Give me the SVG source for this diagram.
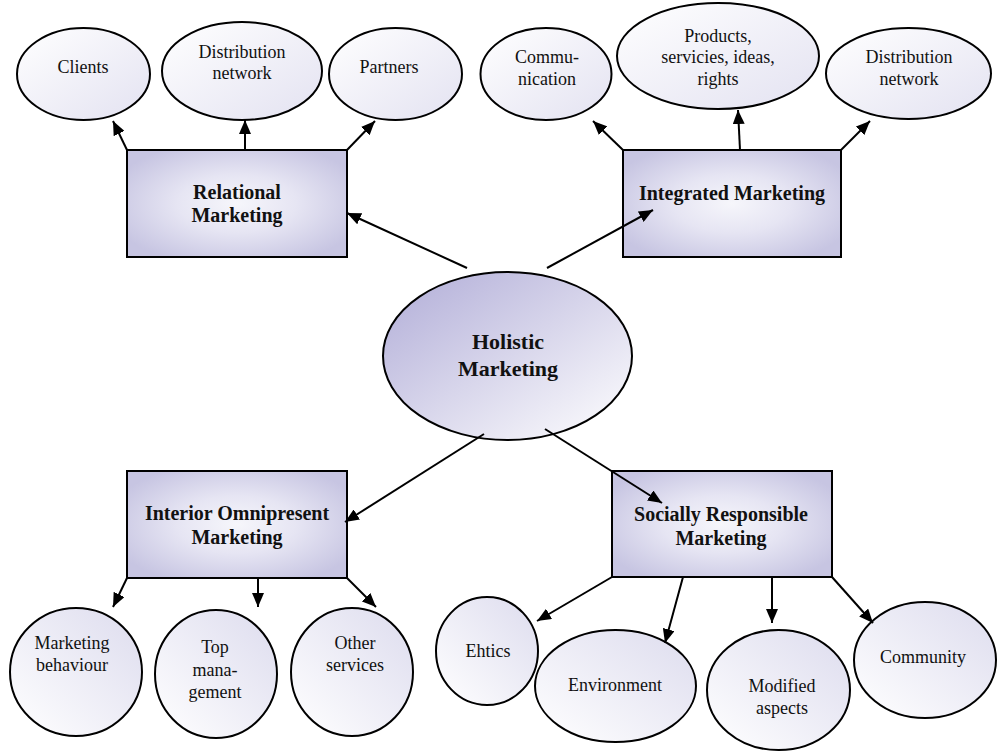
<svg xmlns="http://www.w3.org/2000/svg" width="998" height="751" viewBox="0 0 998 751">
<defs>
<radialGradient id="gBox" cx="0.5" cy="0.5" r="0.6">
<stop offset="0" stop-color="#f6f6fb"/>
<stop offset="0.45" stop-color="#e6e5f3"/>
<stop offset="1" stop-color="#c7c5e2"/>
</radialGradient>
<linearGradient id="gTop" x1="0" y1="0" x2="1" y2="1">
<stop offset="0" stop-color="#ffffff"/>
<stop offset="1" stop-color="#e3e2f1"/>
</linearGradient>
<linearGradient id="gBot" x1="0" y1="1" x2="1" y2="0">
<stop offset="0" stop-color="#ffffff"/>
<stop offset="1" stop-color="#dddcee"/>
</linearGradient>
<linearGradient id="gHol" x1="0" y1="0" x2="1" y2="1">
<stop offset="0" stop-color="#b0acd7"/>
<stop offset="1" stop-color="#ffffff"/>
</linearGradient>
<marker id="arr" markerUnits="userSpaceOnUse" markerWidth="14" markerHeight="12" refX="14" refY="6" orient="auto">
<path d="M0,0 L14,6 L0,12 z" fill="#000"/>
</marker>
</defs>
<style>
.box{fill:url(#gBox);stroke:#000;stroke-width:2}
.et{fill:url(#gTop);stroke:#000;stroke-width:2}
.eb{fill:url(#gBot);stroke:#000;stroke-width:2}
.hol{fill:url(#gHol);stroke:#000;stroke-width:2}
text{font-family:'Liberation Serif','Times New Roman','DejaVu Serif',serif;fill:#111;text-anchor:middle}
.r{font-size:18px}
.b{font-size:20px;font-weight:bold}
.h{font-size:22px;font-weight:bold}
.c line{stroke:#000;stroke-width:2;marker-end:url(#arr)}
</style>
<rect width="998" height="751" fill="#fff"/>

<g id="clients"><ellipse class="et" cx="83.5" cy="74" rx="66.5" ry="46"/><text class="r" font-family="Liberation Serif, serif" x="83" y="73">Clients</text></g>
<g id="distribution-left"><ellipse class="et" cx="242" cy="71" rx="80" ry="49"/><text class="r" x="242" y="58">Distribution</text><text class="r" x="242" y="79">network</text></g>
<g id="partners"><ellipse class="et" cx="395.5" cy="74" rx="66.5" ry="46"/><text class="r" x="389" y="73">Partners</text></g>
<g id="relational"><rect class="box" x="127" y="150" width="220" height="107"/><text class="b" x="237" y="199">Relational</text><text class="b" x="237" y="222">Marketing</text></g>

<g id="communication"><ellipse class="et" cx="546" cy="74" rx="65.5" ry="46"/><text class="r" x="547" y="63">Commu-</text><text class="r" x="547" y="85">nication</text></g>
<g id="products"><ellipse class="et" cx="718" cy="56" rx="101" ry="53"/><text class="r" x="718" y="42">Products,</text><text class="r" x="718" y="63">servicies, ideas,</text><text class="r" x="718" y="85">rights</text></g>
<g id="distribution-right"><ellipse class="et" cx="908.5" cy="73.5" rx="82.5" ry="45.5"/><text class="r" x="909" y="63">Distribution</text><text class="r" x="909" y="85">network</text></g>
<g id="integrated"><rect class="box" x="623" y="150" width="218" height="107"/><text class="b" x="732" y="200">Integrated Marketing</text></g>

<g id="holistic"><ellipse class="hol" cx="507.5" cy="356" rx="124.5" ry="84"/><text class="h" x="508" y="349">Holistic</text><text class="h" x="508" y="376">Marketing</text></g>

<g id="interior"><rect class="box" x="127" y="471" width="220" height="107"/><text class="b" x="237" y="520">Interior Omnipresent</text><text class="b" x="237" y="544">Marketing</text></g>
<g id="socially"><rect class="box" x="612" y="471" width="220" height="106"/><text class="b" x="721" y="521">Socially Responsible</text><text class="b" x="721" y="545">Marketing</text></g>

<g id="marketing-behaviour"><ellipse class="eb" cx="76" cy="672" rx="66" ry="64"/><text class="r" x="72" y="649">Marketing</text><text class="r" x="72" y="671">behaviour</text></g>
<g id="top-management"><ellipse class="eb" cx="216" cy="674" rx="61" ry="64"/><text class="r" x="215" y="653">Top</text><text class="r" x="215" y="676">mana-</text><text class="r" x="215" y="698">gement</text></g>
<g id="other-services"><ellipse class="eb" cx="352" cy="672" rx="61" ry="64"/><text class="r" x="355" y="649">Other</text><text class="r" x="355" y="671">services</text></g>

<g id="ehtics"><ellipse class="eb" cx="487" cy="651" rx="51" ry="54"/><text class="r" x="488" y="657">Ehtics</text></g>
<g id="environment"><ellipse class="eb" cx="615.5" cy="686" rx="80.5" ry="56"/><text class="r" x="615" y="691">Environment</text></g>
<g id="modified"><ellipse class="eb" cx="778.5" cy="690" rx="71.5" ry="60"/><text class="r" x="782" y="692">Modified</text><text class="r" x="782" y="714">aspects</text></g>
<g id="community"><ellipse class="eb" cx="925" cy="660" rx="71" ry="58"/><text class="r" x="923" y="663">Community</text></g>

<g id="connectors" class="c">
<line x1="127" y1="150" x2="113" y2="121"/>
<line x1="245" y1="150" x2="245" y2="120"/>
<line x1="347" y1="150" x2="375" y2="121"/>
<line x1="623" y1="150" x2="593" y2="121"/>
<line x1="740" y1="150" x2="738" y2="110"/>
<line x1="841" y1="150" x2="870" y2="121"/>
<line x1="467" y1="268" x2="347" y2="213"/>
<line x1="547" y1="268" x2="653" y2="210"/>
<line x1="484" y1="434" x2="345" y2="522"/>
<line x1="545" y1="429" x2="662" y2="503"/>
<line x1="127" y1="578" x2="113" y2="607"/>
<line x1="258" y1="578" x2="258" y2="607"/>
<line x1="347" y1="578" x2="376" y2="607"/>
<line x1="612" y1="577" x2="537" y2="621"/>
<line x1="683" y1="577" x2="665" y2="643"/>
<line x1="772" y1="577" x2="772" y2="623"/>
<line x1="832" y1="577" x2="873" y2="623"/>
</g>
</svg>
